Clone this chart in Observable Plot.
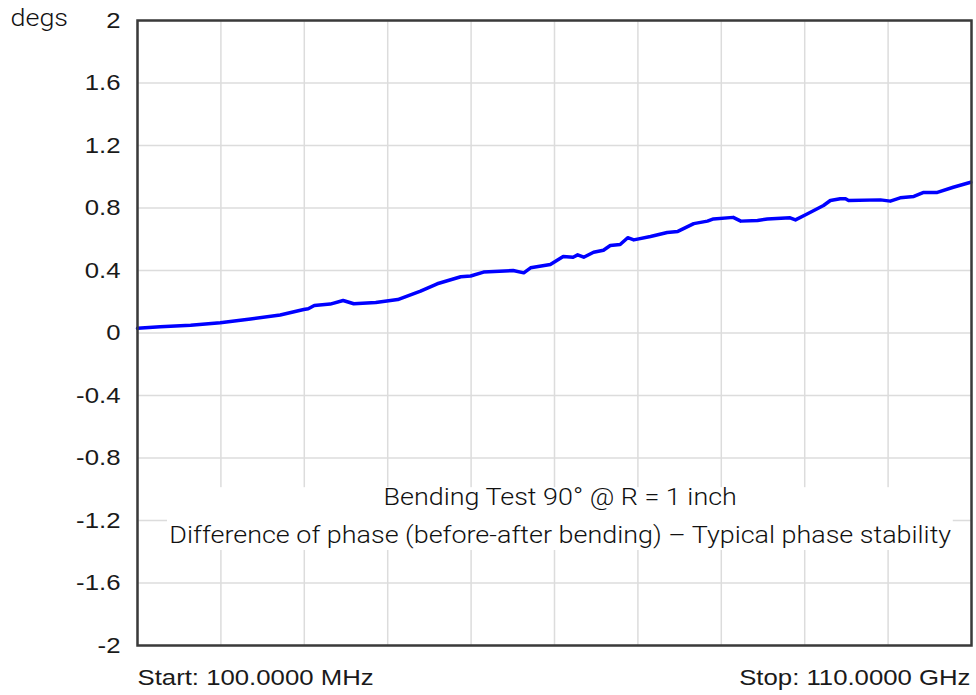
<!DOCTYPE html>
<html>
<head>
<meta charset="utf-8">
<script src="https://cdn.jsdelivr.net/npm/d3@7"></script>
<script src="https://cdn.jsdelivr.net/npm/@observablehq/plot@0.6"></script>
<style>
  html, body { margin: 0; padding: 0; background: #fff; }
</style>
</head>
<body>
<div id="chart"></div>
<script>
// Frequency (GHz)
const freqGHz = [0.1, 3.1, 7.1, 11.0, 15.0, 18.9, 22.0, 22.6, 23.4, 25.5, 27.2, 28.6, 31.5, 34.4, 37.4, 39.6, 42.7, 44.0, 45.7, 49.6, 51.0, 51.9, 54.5, 56.2, 57.5, 58.1, 58.9, 60.2, 61.5, 62.4, 63.7, 64.7, 65.5, 67.7, 69.9, 71.3, 73.4, 75.2, 76.0, 78.6, 79.6, 81.8, 83.1, 86.1, 86.8, 88.4, 90.5, 91.4, 92.7, 93.4, 93.8, 98.0, 99.3, 100.6, 102.4, 103.7, 105.5, 107.6, 109.9];
// Phase difference (degrees)
const phaseDeg = [0.03, 0.04, 0.05, 0.066, 0.09, 0.115, 0.15, 0.155, 0.176, 0.185, 0.208, 0.187, 0.195, 0.214, 0.268, 0.315, 0.36, 0.365, 0.39, 0.40, 0.385, 0.417, 0.438, 0.49, 0.485, 0.50, 0.485, 0.517, 0.53, 0.56, 0.566, 0.61, 0.596, 0.618, 0.643, 0.65, 0.70, 0.716, 0.73, 0.74, 0.716, 0.72, 0.73, 0.737, 0.724, 0.763, 0.816, 0.848, 0.859, 0.859, 0.848, 0.852, 0.844, 0.865, 0.874, 0.90, 0.90, 0.933, 0.965];

const yTicks = [-2, -1.6, -1.2, -0.8, -0.4, 0, 0.4, 0.8, 1.2, 1.6, 2];
const yTickLabels = ["-2", "-1.6", "-1.2", "-0.8", "-0.4", "0", "0.4", "0.8", "1.2", "1.6", "2"];
const xGridTicks = [0.1, 11.09, 22.08, 33.07, 44.06, 55.05, 66.04, 77.03, 88.02, 99.01, 110];
const xDomain = [0.1, 110];
const yDomain = [-2, 2];

const yLabel = "degs";
const startLabel = "Start: 100.0000 MHz";
const stopLabel = "Stop: 110.0000 GHz";
const noteLines = ["Bending Test 90° @ R = 1 inch", "Difference of phase (before-after bending) – Typical phase stability"];
// annotation placement (data units)
const noteBox = [{x1: 4.05, x2: 107.6, y1: -0.99, y2: -1.392}];
const noteText = [{x: 55.8, y: -1.053, t: noteLines[0]}, {x: 55.8, y: -1.296, t: noteLines[1]}];

const data = freqGHz.map((f, i) => ({f, p: phaseDeg[i]}));

const chart = Plot.plot({
  width: 976,
  height: 695,
  marginLeft: 137,
  marginRight: 5,
  marginTop: 20,
  marginBottom: 50,
  style: {fontFamily: "Liberation Sans, Arial, sans-serif", background: "#fff", color: "#222"},
  x: {domain: xDomain, axis: null},
  y: {domain: yDomain, axis: null},
  marks: [
    Plot.gridX(xGridTicks, {stroke: "#dcdcdc", strokeOpacity: 1, strokeWidth: 1.5}),
    Plot.gridY(yTicks, {stroke: "#dcdcdc", strokeOpacity: 1, strokeWidth: 1.5}),
    Plot.rect(noteBox, {x1: "x1", x2: "x2", y1: "y1", y2: "y2", fill: "#fff"}),
    Plot.axisY(yTicks, {
      tickSize: 0, tickPadding: 17, fontSize: 22,
      tickFormat: d => yTickLabels[yTicks.indexOf(d)], label: null, fill: "#1a1a1a"
    }),
    Plot.line(data, {x: "f", y: "p", stroke: "#0000ff", strokeWidth: 3.5, curve: "linear"}),
    Plot.text(noteText, {x: "x", y: "y", text: "t", fontSize: 23, fontWeight: 300,
      fontFamily: "Roboto, Liberation Sans, sans-serif", fill: "#111", textAnchor: "middle"}),
    Plot.frame({stroke: "#3a3a3a", strokeWidth: 2.5}),
    Plot.text([yLabel], {frameAnchor: "top-left", dx: -127, dy: -2, text: d => d, fontSize: 23, fontWeight: 300,
      fontFamily: "Roboto, Liberation Sans, sans-serif", textAnchor: "start", lineAnchor: "middle", fill: "#111"}),
    Plot.text([startLabel], {frameAnchor: "bottom-left", dy: 32, text: d => d, fontSize: 22,
      textAnchor: "start", lineAnchor: "middle", fill: "#1a1a1a"}),
    Plot.text([stopLabel], {frameAnchor: "bottom-right", dx: -1, dy: 32, text: d => d, fontSize: 22,
      textAnchor: "end", lineAnchor: "middle", fill: "#1a1a1a"})
  ]
});
document.getElementById("chart").appendChild(chart);

// The reference typography is slightly wide; stretch glyphs horizontally.
const stretch = 1.17;
chart.querySelectorAll("text").forEach(t => {
  const w = t.getComputedTextLength();
  if (w > 0) {
    t.setAttribute("textLength", (w * stretch).toFixed(1));
    t.setAttribute("lengthAdjust", "spacingAndGlyphs");
  }
});
</script>
</body>
</html>
